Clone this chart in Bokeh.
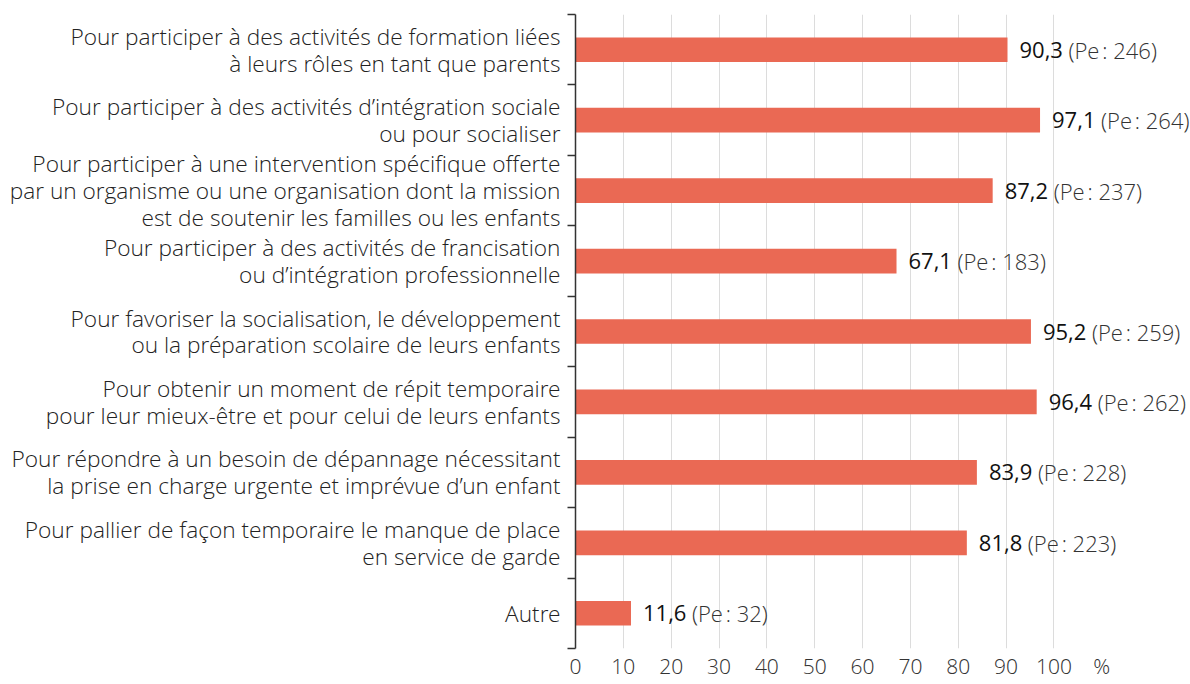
from bokeh.plotting import figure
from bokeh.models import ColumnDataSource, FixedTicker, Range1d
from bokeh.core.properties import value
from bokeh.embed import file_html
from bokeh.resources import INLINE

categories = [
    "Pour participer à des activités de formation liées\nà leurs rôles en tant que parents",
    "Pour participer à des activités d’intégration sociale\nou pour socialiser",
    "Pour participer à une intervention spécifique offerte\npar un organisme ou une organisation dont la mission\nest de soutenir les familles ou les enfants",
    "Pour participer à des activités de francisation\nou d’intégration professionnelle",
    "Pour favoriser la socialisation, le développement\nou la préparation scolaire de leurs enfants",
    "Pour obtenir un moment de répit temporaire\npour leur mieux-être et pour celui de leurs enfants",
    "Pour répondre à un besoin de dépannage nécessitant\nla prise en charge urgente et imprévue d’un enfant",
    "Pour pallier de façon temporaire le manque de place\nen service de garde",
    "Autre",
]
percentages = [90.3, 97.1, 87.2, 67.1, 95.2, 96.4, 83.9, 81.8, 11.6]
pe_counts = [246, 264, 237, 183, 259, 262, 228, 223, 32]
x_ticks = [0, 10, 20, 30, 40, 50, 60, 70, 80, 90, 100]
unit_label = "%"

n = len(categories)
ycent = [n - i - 0.5 for i in range(n)]
src = ColumnDataSource(dict(
    y=ycent,
    v=percentages,
    vlab=[f"{v:.1f}".replace(".", ",") for v in percentages],
    plab=[f"(Pe\u202f: {c})" for c in pe_counts],
))

LIGHT = "Open Sans Light"

p = figure(width=1190, height=684, output_backend="svg", toolbar_location=None,
           x_range=Range1d(0, 128.55), y_range=Range1d(0, n),
           min_border_left=575, min_border_right=0, min_border_top=14, min_border_bottom=36)
p.outline_line_color = None
p.background_fill_color = "white"
p.border_fill_color = "white"

p.hbar(y="y", right="v", left=0, height=0.35, source=src, color="#EA6954", line_color=None)

p.text(x="v", y="y", text="vlab", source=src, x_offset=12, text_baseline="middle",
       text_font=value("Open Sans"), text_font_size="22px", text_color="#111111")
p.text(x="v", y="y", text="plab", source=src, x_offset=61, text_baseline="middle",
       text_font=value(LIGHT), text_font_size="22px", text_color="#333333")

# x axis
xt = x_ticks + [110]
p.xaxis.ticker = FixedTicker(ticks=xt)
p.xaxis.major_label_overrides = {110: unit_label}
p.xaxis.axis_line_color = None
p.xaxis.major_tick_line_color = None
p.xaxis.minor_tick_line_color = None
p.xaxis.major_tick_out = 0
p.xaxis.major_tick_in = 0
p.xaxis.minor_tick_out = 0
p.xaxis.minor_tick_in = 0
p.xaxis.axis_label_standoff = 0
p.xaxis.major_label_text_font = LIGHT
p.xaxis.major_label_text_font_size = "21px"
p.xaxis.major_label_text_color = "#333333"
p.xaxis.major_label_standoff = 3

p.xgrid.ticker = FixedTicker(ticks=x_ticks[1:])
p.xgrid.grid_line_color = "#dcdcdc"
p.xgrid.grid_line_width = 1
p.ygrid.grid_line_color = None

# y axis
p.yaxis.ticker = FixedTicker(ticks=ycent, minor_ticks=list(range(n + 1)))
p.yaxis.major_label_overrides = {y: c for y, c in zip(ycent, categories)}
p.yaxis.major_tick_line_color = None
p.yaxis.major_tick_out = 0
p.yaxis.major_tick_in = 0
p.yaxis.minor_tick_line_color = "#333333"
p.yaxis.minor_tick_line_width = 1.5
p.yaxis.minor_tick_out = 8
p.yaxis.minor_tick_in = 0
p.yaxis.axis_line_color = "#333333"
p.yaxis.axis_line_width = 1.5
p.yaxis.axis_label_standoff = 0
p.yaxis.major_label_standoff = 7
p.yaxis.major_label_text_font = LIGHT
p.yaxis.major_label_text_font_size = "22.7px"
p.yaxis.major_label_text_color = "#222222"
p.yaxis.major_label_text_line_height = 0.87

open("out.html", "w").write(file_html(p, INLINE))
